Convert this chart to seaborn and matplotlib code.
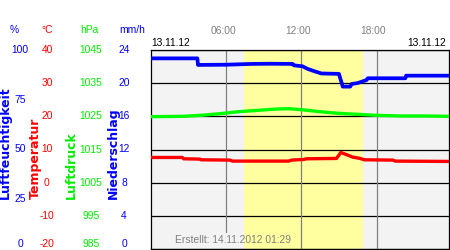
import matplotlib
matplotlib.use("Agg")
import matplotlib.pyplot as plt
import seaborn as sns
import pandas as pd
from matplotlib.transforms import blended_transform_factory, ScaledTranslation

# ---------------- data ----------------
hum_hours = [0, 3.7, 3.75, 6, 7, 8, 9.5, 11.3, 11.4, 12.1, 12.5, 13.0, 13.6, 15.0,
             15.1, 15.2, 15.3, 15.9, 16.0, 16.5, 17.2, 17.3, 20.3, 20.35, 23.78]
hum_values = [95.8, 95.8, 92.5, 92.6, 92.8, 93.0, 93.1, 93.0, 92.3, 91.8, 90.5, 89.4, 88.2, 88.0,
              85.8, 83.8, 81.6, 81.6, 82.9, 83.4, 84.9, 85.8, 85.8, 87.1, 87.1]

pres_hours = [0, 2.5, 4, 5.5, 7, 8.5, 10, 11, 12, 13, 14, 15, 16, 17, 18, 19, 20, 21, 22, 23.78]
pres_values = [1024.9, 1025.0, 1025.3, 1025.8, 1026.4, 1026.8, 1027.2, 1027.3, 1027.0, 1026.6,
               1026.2, 1025.9, 1025.7, 1025.5, 1025.3, 1025.2, 1025.1, 1025.1, 1025.1, 1025.0]

temp_hours = [0, 2.5, 2.6, 3.9, 4.0, 6.3, 6.5, 11.0, 11.2, 12.2, 12.4, 14.8, 15.15, 15.7,
              16.1, 16.7, 17.0, 19.3, 19.5, 23.78]
temp_values = [7.6, 7.6, 7.2, 7.1, 6.9, 6.8, 6.5, 6.5, 6.8, 7.0, 7.2, 7.3, 9.1, 8.3,
               7.7, 7.3, 6.9, 6.8, 6.5, 6.4]

daylight = [7.45, 16.9]
hour_ticks = [6, 12, 18]
hour_labels = ["06:00", "12:00", "18:00"]

hum_ticks = [100, 75, 50, 25, 0]
temp_ticks = [40, 30, 20, 10, 0, -10, -20]
pres_ticks = [1045, 1035, 1025, 1015, 1005, 995, 985]
prec_ticks = [24, 20, 16, 12, 8, 4, 0]

date_label = "13.11.12"
created_label = "Erstellt: 14.11.2012 01:29"

# ---------------- style ----------------
sns.set_theme(style="white")
plt.rcParams["font.family"] = ["Liberation Sans", "DejaVu Sans"]

BLUE = "#0000ff"
RED = "#ff0000"
GREEN = "#00ee00"
GRAY = "#808080"
FS = 7.4

W, H = 450, 250
L, R, T, B = 151, 449, 50, 249
fig = plt.figure(figsize=(W / 100, H / 100), dpi=100)
fig.patch.set_facecolor("white")
ax = fig.add_axes([L / W, 1 - B / H, (R - L) / W, (B - T) / H])
ax_h = ax.twinx()
ax_p = ax.twinx()
ax_n = ax.twinx()

ax.set_facecolor("#f3f3f3")
ax.axvspan(daylight[0], daylight[1], color="#ffffa0", lw=0, zorder=0)

sns.lineplot(x=pres_hours, y=pres_values, ax=ax_p, color="#00ff00", lw=2.4)
sns.lineplot(x=temp_hours, y=temp_values, ax=ax, color=RED, lw=2.4, zorder=5)
sns.lineplot(x=hum_hours, y=hum_values, ax=ax_h, color=BLUE, lw=2.7)

ax.set_xlim(0, 23.78)
ax.set_ylim(-20, 40)
ax_h.set_ylim(0, 100)
ax_p.set_ylim(985, 1045)
ax_n.set_ylim(0, 24)
for a in (ax_h, ax_p, ax_n):
    a.set_axis_off()

ax.set_axisbelow(True)
ax.set_yticks(temp_ticks)
ax.yaxis.grid(True, color="black", lw=0.9)
ax.xaxis.grid(False)
for i, hr in enumerate(hour_ticks):
    ax.axvline(hr, color=GRAY, lw=0.9, zorder=1, ymin=(0.085 if i == 0 else 0))
ax.tick_params(axis="y", left=False, right=False, labelleft=False, labelright=False)
ax.set_xticks(hour_ticks)
ax.set_xticklabels(hour_labels)
ax.tick_params(axis="x", bottom=False, top=False, labelbottom=False, labeltop=True,
               pad=4, labelcolor=GRAY, labelsize=FS)
shift = ScaledTranslation(-3 / 100, 0, fig.dpi_scale_trans)
for lab in ax.get_xticklabels(which="both"):
    lab.set_transform(lab.get_transform() + shift)
ax.set_xlabel("")
ax.set_ylabel("")
for s in ax.spines.values():
    s.set_visible(True)
    s.set_color("black")
    s.set_linewidth(0.9)

# ---------------- left-hand scales ----------------
def scale_labels(axis, ticks, xc, color):
    tr = blended_transform_factory(fig.transFigure, axis.transData)
    lo = min(ticks)
    for v in ticks:
        fig.text(xc / W, v, str(v), transform=tr, ha="center",
                 va=("bottom" if v == lo else "center"), color=color, fontsize=FS)

scale_labels(ax_h, hum_ticks, 20, BLUE)
scale_labels(ax, temp_ticks, 47, RED)
scale_labels(ax_p, pres_ticks, 91, GREEN)
scale_labels(ax_n, prec_ticks, 124, BLUE)

for txt, xc, col in [("%", 14, BLUE), ("°C", 47, RED), ("hPa", 89.5, GREEN), ("mm/h", 132.5, BLUE)]:
    fig.text(xc / W, 1 - 30 / H, txt, ha="center", va="center", color=col, fontsize=FS)

for txt, xc, col in [("Luftfeuchtigkeit", 5.5, BLUE), ("Temperatur", 35, RED),
                     ("Luftdruck", 71.5, GREEN), ("Niederschlag", 113, BLUE)]:
    fig.text(xc / W, 1 - 199 / H, txt, rotation=90, ha="center", va="bottom", color=col,
             fontsize=9, fontweight="bold", family=["DejaVu Sans"])

fig.text(151 / W, 1 - 43 / H, date_label, ha="left", va="center", color="black", fontsize=FS)
fig.text(446 / W, 1 - 43 / H, date_label, ha="right", va="center", color="black", fontsize=FS)
fig.text(175 / W, 1 - 240 / H, created_label, ha="left", va="center", color=GRAY, fontsize=FS)

fig.savefig("out.png", dpi=100)
